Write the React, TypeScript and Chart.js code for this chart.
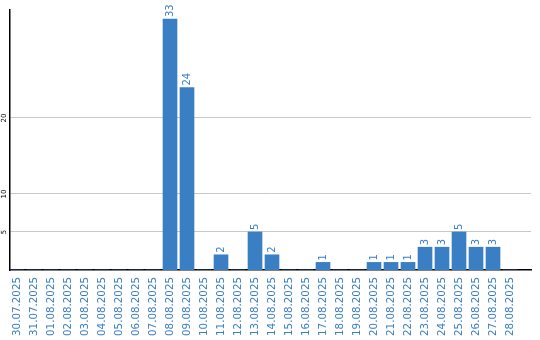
import { useEffect, useRef } from "react";
import { Chart, registerables } from "chart.js";

Chart.register(...registerables);

const dates = [
  "30.07.2025", "31.07.2025", "01.08.2025", "02.08.2025", "03.08.2025",
  "04.08.2025", "05.08.2025", "06.08.2025", "07.08.2025", "08.08.2025",
  "09.08.2025", "10.08.2025", "11.08.2025", "12.08.2025", "13.08.2025",
  "14.08.2025", "15.08.2025", "16.08.2025", "17.08.2025", "18.08.2025",
  "19.08.2025", "20.08.2025", "21.08.2025", "22.08.2025", "23.08.2025",
  "24.08.2025", "25.08.2025", "26.08.2025", "27.08.2025", "28.08.2025",
];

const counts = [
  0, 0, 0, 0, 0, 0, 0, 0, 0, 33,
  24, 0, 2, 0, 5, 2, 0, 0, 1, 0,
  0, 1, 1, 1, 3, 3, 5, 3, 3, 0,
];

const yTicks = [5, 10, 20];
const yMax = 34.2;

const BLUE = "#3a7ec3";

export default function App() {
  const ref = useRef<HTMLCanvasElement | null>(null);

  useEffect(() => {
    if (!ref.current) return;

    const labelPlugin = {
      id: "customLabels",
      afterDatasetsDraw(chart: any) {
        const ctx = chart.ctx;
        const meta = chart.getDatasetMeta(0);
        ctx.save();
        ctx.fillStyle = BLUE;
        ctx.font = "10px 'DejaVu Sans'";
        ctx.textAlign = "left";
        ctx.textBaseline = "middle";
        meta.data.forEach((bar: any, i: number) => {
          const v = counts[i];
          if (!v) return;
          ctx.save();
          ctx.translate(bar.x, bar.y - 2);
          ctx.rotate(-Math.PI / 2);
          ctx.fillText(String(v), 0, 0.5);
          ctx.restore();
        });
        const ys = chart.scales.y;
        ctx.fillStyle = "#000";
        ctx.font = "7px 'DejaVu Sans'";
        ctx.textAlign = "center";
        ctx.textBaseline = "middle";
        yTicks.forEach((t) => {
          const py = ys.getPixelForValue(t);
          ctx.save();
          ctx.translate(4, py);
          ctx.rotate(-Math.PI / 2);
          ctx.fillText(String(t), 0, 0);
          ctx.restore();
        });
        ctx.restore();
      },
    };

    const chart = new Chart(ref.current, {
      type: "bar",
      data: {
        datasets: [
          {
            data: counts.map((v, i) => ({ x: i, y: v })),
            backgroundColor: BLUE,
            borderWidth: 0,
            barThickness: 14,
          },
        ],
      },
      options: {
        animation: false,
        responsive: false,
        devicePixelRatio: 1,
        layout: { padding: { left: 10, top: 10, right: 9, bottom: 0 } },
        plugins: {
          legend: { display: false },
          tooltip: { enabled: false },
        },
        scales: {
          x: {
            type: "linear",
            offset: false,
            min: -0.412,
            max: 30.235,
            grid: { display: false, drawTicks: false, offset: false },
            border: { display: true, color: "#000", width: 1.5 },
            afterBuildTicks: (scale: any) => {
              scale.ticks = dates.map((_, i) => ({ value: i }));
            },
            afterFit: (scale: any) => {
              scale.height = 70;
            },
            ticks: {
              autoSkip: false,
              minRotation: 90,
              maxRotation: 90,
              padding: 7,
              color: BLUE,
              font: { family: "'DejaVu Sans'", size: 10.3 },
              callback: (v: any) => dates[v] ?? "",
            },
          },
          y: {
            type: "linear",
            min: 0,
            max: yMax,
            afterBuildTicks: (scale: any) => {
              scale.ticks = yTicks.map((t) => ({ value: t }));
            },
            afterFit: (scale: any) => {
              scale.width = 0;
            },
            grid: { color: "#c8c8c8", lineWidth: 1, drawTicks: false },
            border: { display: true, color: "#000", width: 1.5 },
            ticks: { display: false },
          },
        },
      },
      plugins: [labelPlugin],
    });

    return () => chart.destroy();
  }, []);

  return (
    <div style={{ position: "absolute", left: 0, top: 0, width: 540, height: 340, background: "#fff" }}>
      <canvas ref={ref} width={540} height={340} />
    </div>
  );
}
